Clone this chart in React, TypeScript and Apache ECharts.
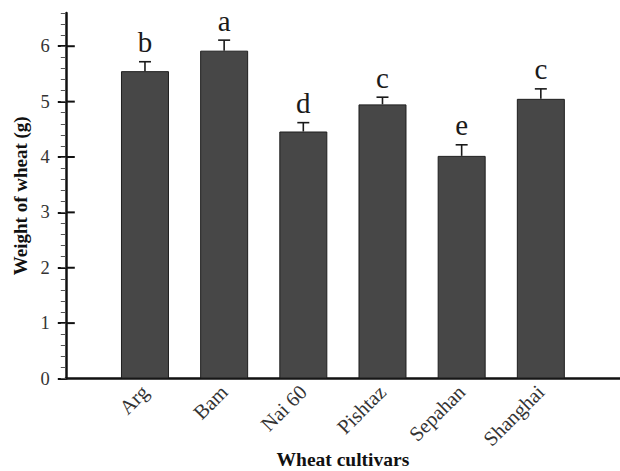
import React, { useEffect, useRef } from "react";
import * as echarts from "echarts";

const categories = ["Arg", "Bam", "Nai 60", "Pishtaz", "Sepahan", "Shanghai"];
const weights = [5.55, 5.92, 4.46, 4.95, 4.02, 5.05];
const errors = [0.17, 0.19, 0.16, 0.13, 0.2, 0.18];
const letters = ["b", "a", "d", "c", "e", "c"];
const yTicks = [0, 1, 2, 3, 4, 5, 6];

const SERIF = "'Liberation Serif', 'DejaVu Serif', serif";

export default function App() {
  const ref = useRef<HTMLDivElement>(null);
  useEffect(() => {
    if (!ref.current) return;
    const chart = echarts.init(ref.current, undefined, { renderer: "svg" });
    const yBase = { type: "value", position: "left", offset: 0, min: 0, max: 6.6, splitLine: { show: false } };
    chart.setOption({
      animation: false,
      backgroundColor: "#ffffff",
      grid: { left: 65.8, right: 0, top: 13, bottom: 92.5, outerBoundsMode: "none", containLabel: false },
      xAxis: {
        type: "value",
        min: 0,
        max: 7,
        interval: 1,
        splitLine: { show: false },
        axisTick: { show: false },
        axisLine: { show: true, lineStyle: { color: "#111", width: 2.5 } },
        axisLabel: {
          rotate: 45,
          margin: 10,
          fontFamily: SERIF,
          fontSize: 20.5,
          color: "#333",
          formatter: (v: number) => categories[v - 1] ?? "",
        },
        name: "Wheat cultivars",
        nameLocation: "middle",
        nameGap: 71,
        nameMoveOverlap: false,
        nameTextStyle: { fontFamily: SERIF, fontSize: 19.5, fontWeight: "bold", color: "#111" },
      },
      yAxis: [
        {
          ...yBase,
          interval: 1,
          axisLine: { show: true, lineStyle: { color: "#111", width: 2.5 } },
          axisTick: { show: true, length: 8, customValues: yTicks, lineStyle: { color: "#111", width: 2 } },
          axisLabel: { customValues: yTicks, margin: 16, fontFamily: SERIF, fontSize: 18.5, color: "#333" },
          name: "Weight of wheat (g)",
          nameLocation: "middle",
          nameGap: 36,
          nameMoveOverlap: false,
          nameTextStyle: { fontFamily: SERIF, fontSize: 19, fontWeight: "bold", color: "#111" },
        },
        {
          ...yBase,
          interval: 0.2,
          axisLine: { show: false },
          axisTick: { show: true, length: 5, lineStyle: { color: "#555", width: 1 } },
          axisLabel: { show: false },
        },
      ],
      series: [
        {
          type: "bar",
          yAxisIndex: 0,
          barWidth: 48,
          data: weights.map((v, i) => [i + 1, v]),
          itemStyle: { color: "#474747", borderColor: "#1e1e1e", borderWidth: 1 },
        },
        {
          type: "custom",
          yAxisIndex: 0,
          clip: false,
          z: 10,
          data: yTicks.slice(1).map((t) => [0.5, t]),
          renderItem: (params: any, api: any) => {
            const p = api.coord([0, api.value(1)]);
            return {
              type: "line",
              shape: { x1: p[0], y1: p[1], x2: p[0] + 9, y2: p[1] },
              style: { stroke: "#111", lineWidth: 2 },
            };
          },
        },
        {
          type: "custom",
          yAxisIndex: 0,
          clip: false,
          data: weights.map((v, i) => [i + 1, v, errors[i]]),
          renderItem: (params: any, api: any) => {
            const x = api.value(0);
            const v = api.value(1);
            const e = api.value(2);
            const base = api.coord([x, v]);
            const top = api.coord([x, v + e]);
            const stroke = { stroke: "#1a1a1a", lineWidth: 1.6 };
            return {
              type: "group",
              children: [
                { type: "line", shape: { x1: base[0], y1: base[1], x2: top[0], y2: top[1] }, style: stroke },
                { type: "line", shape: { x1: top[0] - 6, y1: top[1], x2: top[0] + 6, y2: top[1] }, style: stroke },
                {
                  type: "text",
                  x: top[0],
                  y: top[1] - 5,
                  style: {
                    text: letters[params.dataIndex],
                    fontFamily: SERIF,
                    fontSize: 29,
                    fill: "#1a1a1a",
                    align: "center",
                    verticalAlign: "bottom",
                  },
                },
              ],
            };
          },
        },
      ],
    });
    return () => chart.dispose();
  }, []);
  return (
    <div
      ref={ref}
      style={{ position: "absolute", left: 0, top: 0, width: 620, height: 471 }}
    />
  );
}
